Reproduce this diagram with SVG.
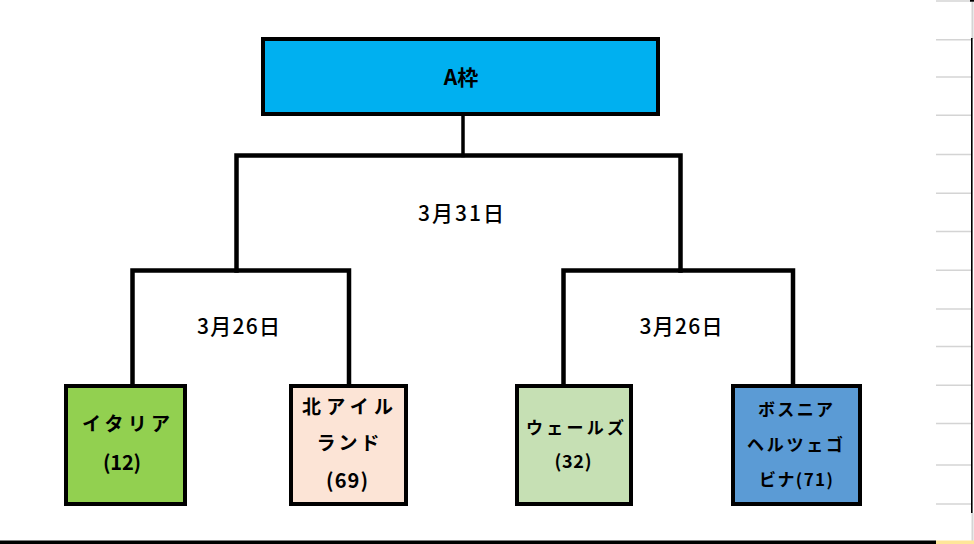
<svg xmlns="http://www.w3.org/2000/svg" width="974" height="544" viewBox="0 0 974 544">
  <style>
    .box { stroke: #000; stroke-width: 4; }
    .conn { fill: none; stroke: #000; stroke-width: 4.5; stroke-linejoin: miter; stroke-linecap: square; }
    .t { font-family: "Noto Sans CJK JP", "Noto Sans", sans-serif; font-weight: bold; fill: #000; text-anchor: middle; }
    .m { font-weight: 500; }
    .grid { stroke: #d4d4d4; stroke-width: 1.5; }
  </style>
  <rect x="0" y="0" width="974" height="544" fill="#ffffff"/>

  <!-- sheet edge decorations -->
  <g id="sheet-edge">
    <line class="grid" x1="936" y1="1" x2="971" y2="1"/>
    <line class="grid" x1="936" y1="39.8" x2="971" y2="39.8"/>
    <line class="grid" x1="936" y1="77" x2="971" y2="77"/>
    <line class="grid" x1="936" y1="115.3" x2="971" y2="115.3"/>
    <line class="grid" x1="936" y1="154.5" x2="971" y2="154.5"/>
    <line class="grid" x1="936" y1="193.3" x2="971" y2="193.3"/>
    <line class="grid" x1="936" y1="231.4" x2="971" y2="231.4"/>
    <line class="grid" x1="936" y1="270.2" x2="971" y2="270.2"/>
    <line class="grid" x1="936" y1="309" x2="971" y2="309"/>
    <line class="grid" x1="936" y1="346.4" x2="971" y2="346.4"/>
    <line class="grid" x1="936" y1="385.2" x2="971" y2="385.2"/>
    <line class="grid" x1="936" y1="423.6" x2="971" y2="423.6"/>
    <line class="grid" x1="936" y1="465" x2="971" y2="465"/>
    <line class="grid" x1="936" y1="504" x2="971" y2="504"/>
    <rect x="971.5" y="0" width="2" height="39" fill="#d4d4d4"/>
    <rect x="971" y="38" width="1.6" height="475" fill="#000"/>
    <rect x="971.5" y="513" width="2" height="28" fill="#d4d4d4"/>
    <rect x="970" y="0" width="4" height="1.7" fill="#000"/>
    <rect x="0" y="540.5" width="936" height="3.5" fill="#000"/>
    <rect x="936" y="540.5" width="38" height="3.5" fill="#ffe699"/>
  </g>

  <g id="connectors">
    <line class="conn" x1="463" y1="116" x2="463" y2="155.5" style="stroke-width:3.5"/>
    <path class="conn" d="M236.5,270.5 V155.5 H680.5 V270.5"/>
    <path class="conn" d="M132.5,384 V270.5 H349 V384"/>
    <path class="conn" d="M563.5,384 V270.5 H793 V384"/>
  </g>

  <g id="label-final">
    <text class="t m" x="461" y="221" font-size="21" textLength="86" lengthAdjust="spacing">3月31日</text>
  </g>
  <g id="label-semi-left">
    <text class="t m" x="238.5" y="334" font-size="21" textLength="83" lengthAdjust="spacing">3月26日</text>
  </g>
  <g id="label-semi-right">
    <text class="t m" x="681" y="334" font-size="21" textLength="83" lengthAdjust="spacing">3月26日</text>
  </g>

  <g id="node-a">
    <rect class="box" x="263" y="39" width="395" height="75" fill="#00b0f0"/>
    <text class="t" x="461" y="85" font-size="21">A枠</text>
  </g>

  <g id="node-italy">
    <rect class="box" x="66" y="386" width="119" height="118" fill="#92d050"/>
    <text class="t" x="126" y="431" font-size="19" textLength="88" lengthAdjust="spacing">イタリア</text>
    <text class="t" x="122" y="470" font-size="20" textLength="38" lengthAdjust="spacing">(12)</text>
  </g>

  <g id="node-nireland">
    <rect class="box" x="291" y="386" width="115" height="118" fill="#fce4d6"/>
    <text class="t" x="347.5" y="414" font-size="19" textLength="91" lengthAdjust="spacing">北アイル</text>
    <text class="t" x="348" y="450" font-size="19" textLength="63" lengthAdjust="spacing">ランド</text>
    <text class="t" x="347" y="488" font-size="20" textLength="42" lengthAdjust="spacing">(69)</text>
  </g>

  <g id="node-wales">
    <rect class="box" x="517" y="386" width="114" height="118" fill="#c6e0b4"/>
    <text class="t" x="575" y="434" font-size="17" textLength="98" lengthAdjust="spacing">ウェールズ</text>
    <text class="t" x="573" y="468" font-size="18" textLength="37" lengthAdjust="spacing">(32)</text>
  </g>

  <g id="node-bosnia">
    <rect class="box" x="733" y="386" width="127" height="118" fill="#5b9bd5"/>
    <text class="t" x="795.5" y="416" font-size="17" textLength="75" lengthAdjust="spacing">ボスニア</text>
    <text class="t" x="795" y="451" font-size="17" textLength="96" lengthAdjust="spacing">ヘルツェゴ</text>
    <text class="t" x="796" y="486" font-size="17" textLength="74" lengthAdjust="spacing">ビナ(71)</text>
  </g>
</svg>
